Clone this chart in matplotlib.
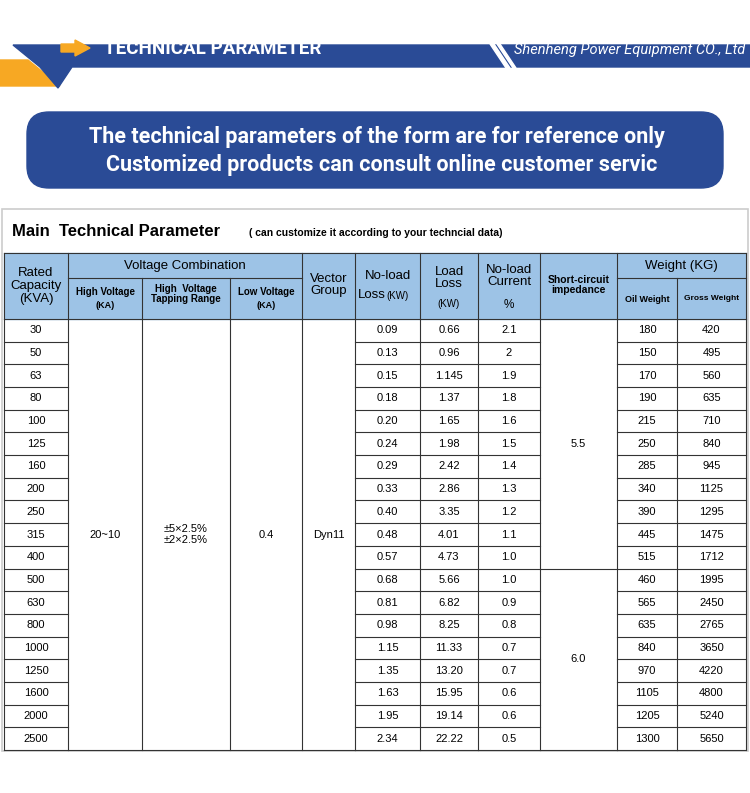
import matplotlib.pyplot as plt
from matplotlib.patches import Rectangle, Polygon, FancyBboxPatch

# ---------------------------------------------------------------------------
# Table data
# ---------------------------------------------------------------------------
capacity = ["30", "50", "63", "80", "100", "125", "160", "200", "250", "315",
            "400", "500", "630", "800", "1000", "1250", "1600", "2000", "2500"]
noload_loss = ["0.09", "0.13", "0.15", "0.18", "0.20", "0.24", "0.29", "0.33", "0.40", "0.48",
               "0.57", "0.68", "0.81", "0.98", "1.15", "1.35", "1.63", "1.95", "2.34"]
load_loss = ["0.66", "0.96", "1.145", "1.37", "1.65", "1.98", "2.42", "2.86", "3.35", "4.01",
             "4.73", "5.66", "6.82", "8.25", "11.33", "13.20", "15.95", "19.14", "22.22"]
noload_current = ["2.1", "2", "1.9", "1.8", "1.6", "1.5", "1.4", "1.3", "1.2", "1.1",
                  "1.0", "1.0", "0.9", "0.8", "0.7", "0.7", "0.6", "0.6", "0.5"]
oil_weight = ["180", "150", "170", "190", "215", "250", "285", "340", "390", "445",
              "515", "460", "565", "635", "840", "970", "1105", "1205", "1300"]
gross_weight = ["420", "495", "560", "635", "710", "840", "945", "1125", "1295", "1475",
                "1712", "1995", "2450", "2765", "3650", "4220", "4800", "5240", "5650"]
impedance = ["5.5", "6.0"]
impedance_rows = [11, 8]

BLUE = "#2a4b96"
HEAD = "#9dc3e6"
ORANGE = "#f7a823"

fig = plt.figure(figsize=(7.5, 7.93), dpi=100)
ax = fig.add_axes([0, 0, 1, 1])
ax.set_xlim(0, 750)
ax.set_ylim(793, 0)
ax.axis("off")

# ---------------------------------------------------------------------------
# Banner
# ---------------------------------------------------------------------------
ax.add_patch(Polygon([(0, 60), (28, 60), (60, 86), (0, 86)], color=ORANGE))
ax.add_patch(Polygon([(13, 45), (750, 45), (750, 67), (72, 67), (58, 88), (40, 67)], color=BLUE))
ax.add_patch(Polygon([(490, 44), (494, 44), (510, 68), (506, 68)], color="white"))
ax.add_patch(Polygon([(497, 44), (500, 44), (516, 68), (513, 68)], color="white"))
ax.add_patch(Polygon([(61, 44), (75, 44), (75, 40), (90, 48), (75, 56), (75, 52), (61, 52)], color=ORANGE))
ax.text(104, 49, "TECHNICAL PARAMETER", color="white", fontsize=13.5, fontweight="bold",
        va="center", family="Roboto")
ax.text(745, 50, "Shenheng Power Equipment CO., Ltd", color="white", fontsize=10.5,
        style="italic", va="center", ha="right", family="Roboto")

ax.add_patch(FancyBboxPatch((27, 112), 696, 76, boxstyle="round,pad=0,rounding_size=22",
                            color=BLUE))
ax.text(377, 137, "The technical parameters of the form are for reference only",
        color="white", fontsize=15.5, fontweight="bold", ha="center", va="center", family="Roboto")
ax.text(382, 165, "Customized products can consult online customer servic",
        color="white", fontsize=15.5, fontweight="bold", ha="center", va="center", family="Roboto")

# ---------------------------------------------------------------------------
# Table
# ---------------------------------------------------------------------------
FONT = "Liberation Sans"
cols = [4, 68, 142, 230, 302, 355, 420, 478, 540, 617, 677, 746]
top, mid, hbot = 253, 278, 319
nrows = len(capacity)
rh = (750 - hbot) / nrows

ax.add_patch(Rectangle((2, 209), 746, 542, fill=False, ec="#cccccc", lw=1.2))
ax.text(12, 231, "Main  Technical Parameter", fontsize=12, fontweight="bold", va="center", family=FONT)
ax.text(249, 233, "( can customize it according to your techncial data)", fontsize=7.5,
        fontweight="bold", va="center", family=FONT)

ax.add_patch(Rectangle((cols[0], top), cols[-1] - cols[0], hbot - top, color=HEAD))
lc = "#333333"
def line(x0, y0, x1, y1):
    ax.plot([x0, x1], [y0, y1], color=lc, lw=0.8)

line(cols[0], top, cols[-1], top)
line(cols[0], hbot, cols[-1], hbot)
line(cols[1], mid, cols[4], mid)
line(cols[9], mid, cols[11], mid)
for i, x in enumerate(cols):
    if i in (2, 3, 10):
        line(x, mid, x, hbot)
    else:
        line(x, top, x, hbot)

def hc(x0, x1, y, s, size=9.5, bold=False):
    ax.text((x0 + x1) / 2, y, s, ha="center", va="center", fontsize=size,
            fontweight="bold" if bold else "normal", family=FONT, linespacing=1.1)

hc(cols[0], cols[1], 286, "Rated\nCapacity\n(KVA)")
hc(cols[1], cols[4], 266, "Voltage Combination")
hc(cols[1], cols[2], 292, "High Voltage", 7, True)
hc(cols[1], cols[2], 306, "(KA)", 6.5, True)
hc(cols[2], cols[3], 294, "High  Voltage\nTapping Range", 7, True)
hc(cols[3], cols[4], 292, "Low Voltage", 7, True)
hc(cols[3], cols[4], 306, "(KA)", 6.5, True)
hc(cols[4], cols[5], 285, "Vector\nGroup")
hc(cols[5], cols[6], 276, "No-load")
ax.text(358, 295, "Loss", fontsize=9.5, va="center", family=FONT)
ax.text(386, 296, "(KW)", fontsize=7, va="center", family=FONT)
hc(cols[6], cols[7], 278, "Load\nLoss")
hc(cols[6], cols[7], 304, "(KW)", 7)
hc(cols[7], cols[8], 276, "No-load\nCurrent")
hc(cols[7], cols[8], 305, "%", 8.5)
hc(cols[8], cols[9], 285, "Short-circuit\nimpedance", 7.5, True)
hc(cols[9], cols[11], 266, "Weight (KG)")
hc(cols[9], cols[10], 299, "Oil Weight", 6.5, True)
hc(cols[10], cols[11], 299, "Gross Weight", 6, True)

# body grid
bot = hbot + nrows * rh
for x in cols:
    line(x, hbot, x, bot)
single = [0, 5, 6, 7, 9, 10]
for r in range(1, nrows + 1):
    y = hbot + r * rh
    for c in single:
        line(cols[c], y, cols[c + 1], y)
line(cols[1], bot, cols[5], bot)
line(cols[8], hbot + impedance_rows[0] * rh, cols[9], hbot + impedance_rows[0] * rh)
line(cols[8], bot, cols[9], bot)

body = [(0, capacity), (5, noload_loss), (6, load_loss), (7, noload_current),
        (9, oil_weight), (10, gross_weight)]
for c, vals in body:
    for r, v in enumerate(vals):
        hc(cols[c], cols[c + 1], hbot + (r + 0.5) * rh, v, 8)

midy = (hbot + bot) / 2
hc(cols[1], cols[2], midy, "20~10", 8)
hc(cols[2], cols[3], midy, "±5×2.5%\n±2×2.5%", 8)
hc(cols[3], cols[4], midy, "0.4", 8)
hc(cols[4], cols[5], midy, "Dyn11", 8)
start = 0
for val, n in zip(impedance, impedance_rows):
    hc(cols[8], cols[9], hbot + (start + n / 2) * rh, val, 8)
    start += n

fig.savefig("out.png", dpi=100)
